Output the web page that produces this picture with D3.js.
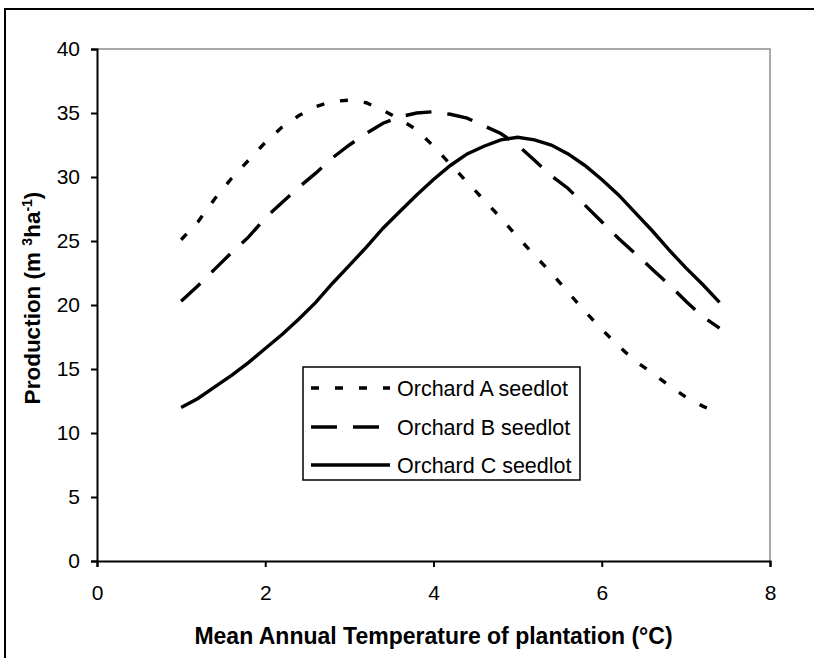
<!DOCTYPE html>
<html><head><meta charset="utf-8">
<script src="https://cdn.jsdelivr.net/npm/d3@7"></script>
<style>body{margin:0;background:#fff}svg{display:block}</style>
</head><body>
<svg id="c" width="814" height="658"></svg>
<script>
const temps = [1.0,1.2,1.4,1.6,1.8,2.0,2.2,2.4,2.6,2.8,3.0,3.2,3.4,3.6,3.8,4.0,4.2,4.4,4.6,4.8,5.0,5.2,5.4,5.6,5.8,6.0,6.2,6.4,6.6,6.8,7.0,7.2,7.4];
const orchardA = [25.1,26.5,28.3,29.9,31.3,32.7,33.9,34.8,35.5,35.9,36.0,35.8,35.2,34.5,33.7,32.4,31.0,29.6,28.2,26.8,25.3,23.9,22.5,21.0,19.5,18.1,16.8,15.6,14.7,13.7,12.8,12.1,11.5];
const orchardB = [20.3,21.5,22.8,24.1,25.3,26.8,28.0,29.2,30.3,31.5,32.5,33.4,34.2,34.7,35.0,35.1,34.9,34.6,34.0,33.4,32.5,31.3,30.1,29.1,27.8,26.5,25.2,24.0,22.8,21.6,20.3,19.1,18.2];
const orchardC = [12.0,12.7,13.6,14.5,15.5,16.6,17.7,18.9,20.2,21.7,23.1,24.5,26.0,27.3,28.6,29.8,30.9,31.8,32.4,32.9,33.1,32.9,32.5,31.8,30.9,29.8,28.6,27.2,25.8,24.3,22.9,21.6,20.2];
const seriesNames = ["Orchard A seedlot","Orchard B seedlot","Orchard C seedlot"];
const xTicks = [0,2,4,6,8];
const yTicks = [0,5,10,15,20,25,30,35,40];

const svg = d3.select("#c");
const L = 97, R = 770, T = 49, B = 561;
const x = d3.scaleLinear().domain([0,8]).range([L,R]);
const y = d3.scaleLinear().domain([0,40]).range([B,T]);
const font = "'Liberation Sans', Arial, sans-serif";

// outer frame
svg.append("rect").attr("x",5).attr("y",9).attr("width",1000).attr("height",1000)
  .attr("fill","none").attr("stroke","#000").attr("stroke-width",2);

// plot frame (gray top and right)
svg.append("path").attr("d",`M${L},${T}H${R}V${B}`).attr("fill","none")
  .attr("stroke","#8c8c8c").attr("stroke-width",1.5);

// axes
const xAxis = svg.append("g").attr("transform",`translate(0,${B})`)
  .call(d3.axisBottom(x).tickValues(xTicks).tickSizeOuter(0).tickSize(6).tickPadding(18));
const yAxis = svg.append("g").attr("transform",`translate(${L},0)`)
  .call(d3.axisLeft(y).tickValues(yTicks).tickSizeOuter(0).tickSize(6).tickPadding(11));
[xAxis,yAxis].forEach(g=>{
  g.select(".domain").attr("stroke","#000").attr("stroke-width",2);
  g.selectAll(".tick line").attr("stroke","#000").attr("stroke-width",2);
  g.selectAll(".tick text").attr("fill","#000").style("font-family",font).style("font-size","21px");
});

// lines
const data = [orchardA, orchardB, orchardC];
const dashes = ["8,16","26,16",null];
const line = d3.line().x((d,i)=>x(temps[i])).y(d=>y(d));
data.forEach((s,k)=>{
  svg.append("path").datum(s).attr("d",line).attr("fill","none")
    .attr("stroke","#000").attr("stroke-width",3.4)
    .attr("stroke-dasharray",dashes[k]);
});

// axis titles
svg.append("text").attr("x",(L+R)/2).attr("y",644).attr("text-anchor","middle")
  .style("font-family",font).style("font-size","23px").style("font-weight","bold")
  .text("Mean Annual Temperature of plantation (°C)");
const yt = svg.append("text").attr("transform",`translate(40,298) rotate(-90)`)
  .attr("text-anchor","middle").style("font-family",font).style("font-size","22.5px").style("font-weight","bold");
yt.append("tspan").text("Production (m ");
yt.append("tspan").attr("dy",-8).style("font-size","14px").text("3");
yt.append("tspan").attr("dy",8).text("ha");
yt.append("tspan").attr("dy",-8).style("font-size","14px").text("-1");
yt.append("tspan").attr("dy",8).text(")");

// legend
const lg = svg.append("g");
lg.append("rect").attr("x",303).attr("y",367).attr("width",277).attr("height",113)
  .attr("fill","#fff").attr("stroke","#000").attr("stroke-width",1.5);
const rows = [388,427,465];
seriesNames.forEach((n,k)=>{
  lg.append("line").attr("x1",311).attr("x2",390).attr("y1",rows[k]).attr("y2",rows[k])
    .attr("stroke","#000").attr("stroke-width",3.6).attr("stroke-dasharray",dashes[k]);
  lg.append("text").attr("x",397).attr("y",rows[k]+7.5).style("font-family",font)
    .style("font-size","21.5px").text(n);
});
</script>
</body></html>
